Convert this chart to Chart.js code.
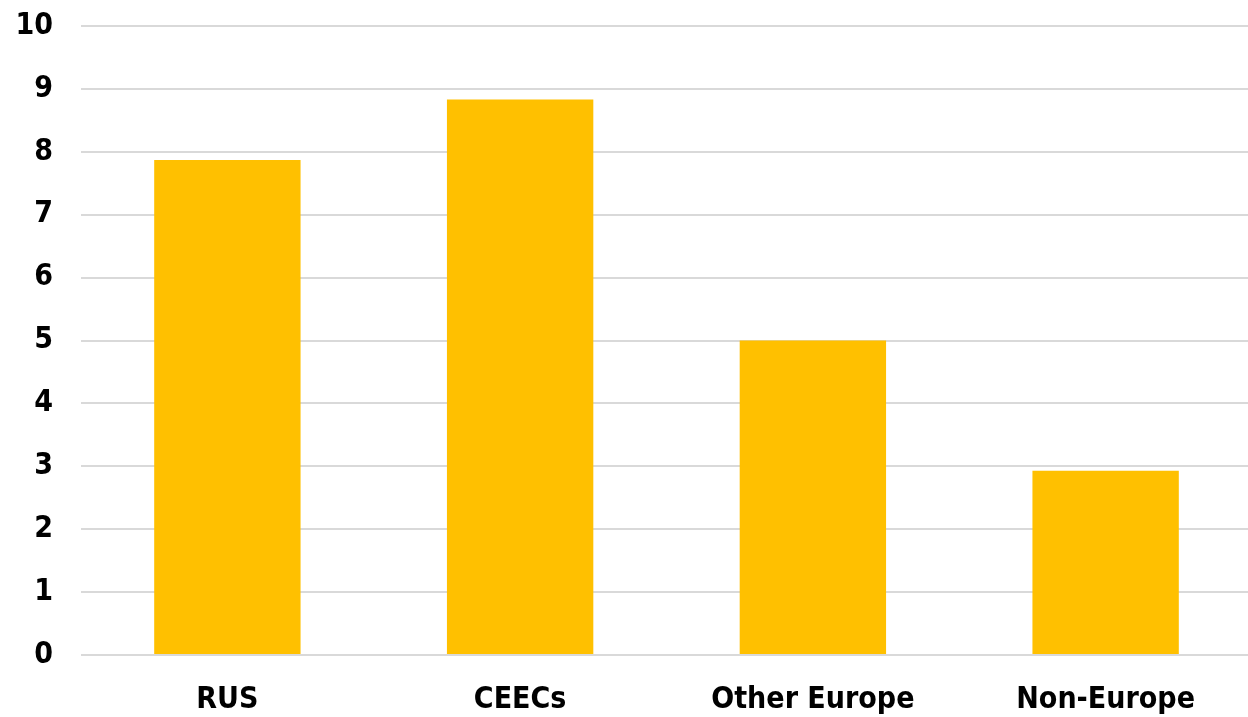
<!DOCTYPE html>
<html>
<head>
<meta charset="utf-8">
<script src="https://cdn.jsdelivr.net/npm/chart.js@4"></script>
<style>
  html, body { margin: 0; padding: 0; background: #fff; overflow: hidden; }
  #wrap { position: relative; width: 1252px; height: 717px; }
</style>
</head>
<body>
<div id="wrap"><canvas id="grafico"></canvas></div>
<script>
const categorias = ["RUS", "CEECs", "Other Europe", "Non-Europe"];
const valores = [7.87, 8.83, 5.0, 2.93];
const ticksY = [0, 1, 2, 3, 4, 5, 6, 7, 8, 9, 10];

const fuente = "'Liberation Sans Narrow', 'Arial Narrow', 'DejaVu Sans Condensed', sans-serif";

let ctx = document.getElementById("grafico").getContext("2d");
new Chart(ctx, {
  type: "bar",
  data: {
    labels: categorias,
    datasets: [
      {
        label: "valor",
        backgroundColor: "#FFC000",
        borderWidth: 0,
        data: valores,
        barPercentage: 0.5,
        categoryPercentage: 1.0,
      },
    ],
  },
  options: {
    responsive: true,
    maintainAspectRatio: false,
    animation: false,
    layout: { padding: { top: 26, left: 0, right: 0, bottom: 0 } },
    plugins: { legend: { display: false }, tooltip: { enabled: false } },
    scales: {
      x: {
        grid: { display: false, drawTicks: false },
        border: { display: false },
        afterFit: (eje) => {
          eje.height = 62;
          eje.paddingLeft = 0;
          eje.paddingRight = 0;
        },
        ticks: {
          color: "#000",
          padding: 27,
          font: { family: fuente, size: 30, weight: "bold" },
        },
      },
      y: {
        min: 0,
        max: 10,
        afterBuildTicks: (eje) => {
          eje.ticks = ticksY.map((v) => ({ value: v }));
        },
        afterFit: (eje) => {
          eje.width = 81;
          eje.paddingTop = 0;
          eje.paddingBottom = 0;
        },
        grid: { color: "#d9d9d9", lineWidth: 2, drawTicks: false },
        border: { display: false },
        ticks: {
          color: "#000",
          padding: 28,
          font: { family: fuente, size: 30, weight: "bold" },
        },
      },
    },
  },
});
</script>
</body>
</html>
